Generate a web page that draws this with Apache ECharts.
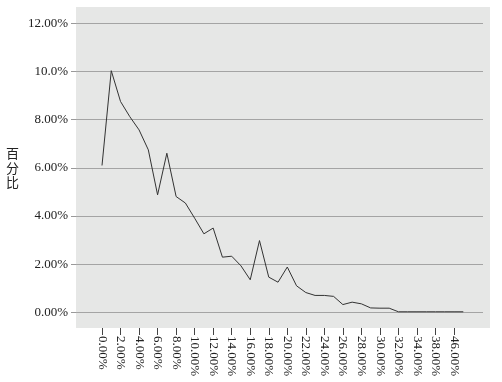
<!DOCTYPE html>
<html>
<head>
<meta charset="utf-8">
<script src="https://cdn.jsdelivr.net/npm/echarts@6/dist/echarts.min.js"></script>
<style>html,body{margin:0;padding:0;background:#fff}#c{width:502px;height:382px}</style>
</head>
<body>
<div id="c"></div>
<script>
var categories = ['0.00%','1.00%','2.00%','3.00%','4.00%','5.00%','6.00%','7.00%','8.00%','9.00%',
  '10.00%','11.00%','12.00%','13.00%','14.00%','15.00%','16.00%','17.00%','18.00%','19.00%',
  '20.00%','21.00%','22.00%','23.00%','24.00%','25.00%','26.00%','27.00%','28.00%','29.00%',
  '30.00%','31.00%','32.00%','33.00%','34.00%','36.00%','38.00%','42.00%','46.00%','50.00%'];
var percentValues = [6.09,10.03,8.75,8.12,7.57,6.74,4.87,6.60,4.80,4.53,
  3.90,3.25,3.49,2.28,2.32,1.92,1.34,2.97,1.45,1.24,
  1.87,1.09,0.81,0.69,0.69,0.65,0.31,0.41,0.34,0.17,
  0.16,0.16,0.01,0.01,0.01,0.01,0.01,0.01,0.01,0.01];
var yTickLabels = ['0.00%','2.00%','4.00%','6.00%','8.00%','10.0%','12.00%'];

var font = 'Liberation Serif';
var chart = echarts.init(document.getElementById('c'));
chart.setOption({
  animation: false,
  backgroundColor: '#ffffff',
  grid: [
    {left: 76, right: 12, top: 7, bottom: 54, show: true, backgroundColor: '#e6e7e6', borderWidth: 0},
    {left: 76, right: 19, top: 23.3, bottom: 69.7},
    {left: 102, right: 38.7, top: 23.3, bottom: 54}
  ],
  xAxis: [
    {gridIndex: 0, type: 'value', show: false},
    {gridIndex: 1, type: 'value', show: false},
    {gridIndex: 2, type: 'category', data: categories, boundaryGap: false,
     axisLine: {show: false, onZero: false},
     axisTick: {show: true, interval: 1, length: 7, lineStyle: {color: '#444'}},
     axisLabel: {interval: 1, rotate: -90, margin: 8, color: '#222', fontFamily: font, fontSize: 13}}
  ],
  yAxis: [
    {gridIndex: 0, type: 'value', show: false},
    {gridIndex: 1, type: 'value', min: 0, max: 12, interval: 2,
     name: '百\n分\n比', nameLocation: 'middle', nameRotate: 0, nameGap: 57,
     nameTextStyle: {fontFamily: 'Noto Sans CJK SC', fontSize: 13, lineHeight: 14.5, color: '#222'},
     axisLine: {show: false},
     axisTick: {show: true, length: 5, lineStyle: {color: '#999'}},
     splitLine: {show: true, lineStyle: {color: '#a4a4a4', width: 1}},
     axisLabel: {margin: 8, color: '#222', fontFamily: font, fontSize: 13,
       formatter: function (v) { return yTickLabels[Math.round(v / 2)]; }}},
    {gridIndex: 2, type: 'value', min: -0.664, max: 12, show: false}
  ],
  series: [{
    type: 'line', xAxisIndex: 2, yAxisIndex: 2, data: percentValues,
    symbol: 'none', lineStyle: {color: '#333', width: 1}
  }]
});
</script>
</body>
</html>
